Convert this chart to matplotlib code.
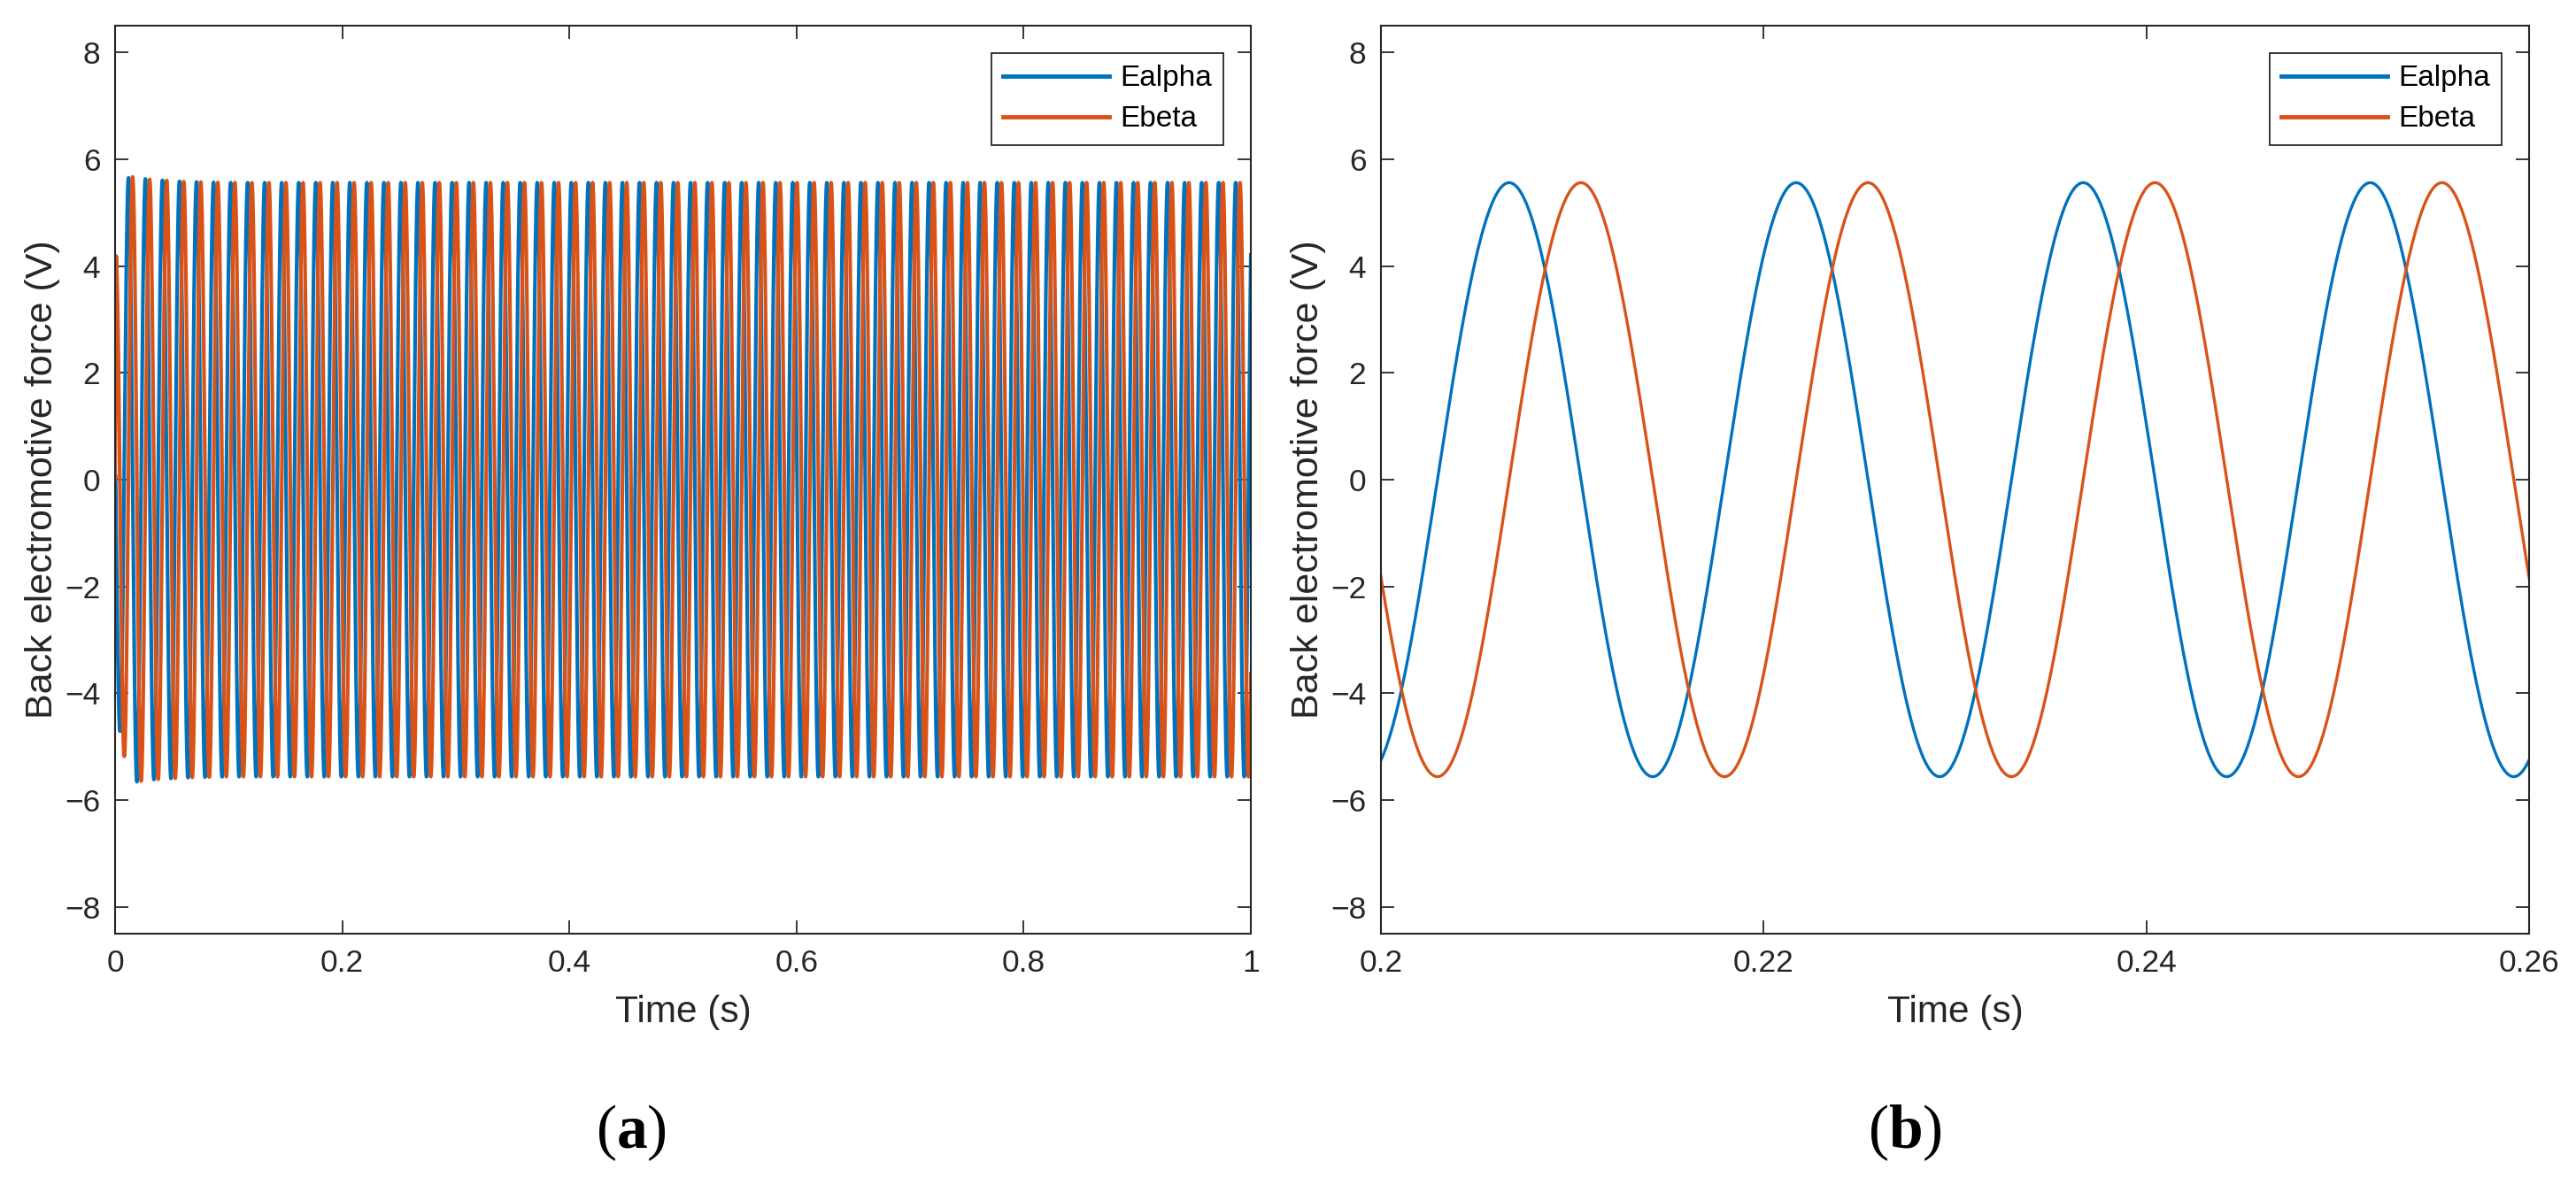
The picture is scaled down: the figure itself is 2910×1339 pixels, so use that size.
import numpy as np
import matplotlib
matplotlib.use("Agg")
import matplotlib.pyplot as plt

# values (MATLAB simulation output)
amplitude = 5.56          # steady-state peak (V)
period = 0.015            # s, peak to peak in panel (b)
alpha_peak_time = 0.2067  # s, an Ealpha crest seen in panel (b)
beta_lag = 0.00375        # s, Ebeta crest follows Ealpha crest

# start-up envelope seen at the left edge of panel (a)
startup_t = [0.0, 0.001, 0.012, 0.03, 0.06, 0.1, 1.0]
startup_amp = [0.0, 4.3, 5.68, 5.62, 5.58, amplitude, amplitude]

series_names = ["Ealpha", "Ebeta"]
panel_xlims = [(0, 1), (0.2, 0.26)]
panel_xticks = [[0, 0.2, 0.4, 0.6, 0.8, 1], [0.2, 0.22, 0.24, 0.26]]
panel_xticklabels = [["0", "0.2", "0.4", "0.6", "0.8", "1"],
                     ["0.2", "0.22", "0.24", "0.26"]]
yticks = [-8, -6, -4, -2, 0, 2, 4, 6, 8]
captions = ["a", "b"]

BLUE = "#0072BD"
ORANGE = "#D95319"
AXC = "#262626"

plt.rcParams["font.family"] = ["Liberation Sans", "DejaVu Sans"]
plt.rcParams["mathtext.fontset"] = "custom"
plt.rcParams["mathtext.rm"] = "Liberation Serif"
plt.rcParams["mathtext.bf"] = "Liberation Serif:bold"

t = np.arange(0, 1.0 + 1e-9, 2e-5)
env = np.interp(t, startup_t, startup_amp)
phase = 2 * np.pi * (t - alpha_peak_time) / period
e_alpha = env * np.cos(phase)
e_beta = env * np.cos(phase - 2 * np.pi * beta_lag / period)

W, H = 2910, 1339
fig = plt.figure(figsize=(W / 100, H / 100), dpi=100)

boxes = [(130, 1413), (1560, 2857)]
top_px, bot_px = 29, 1055
caption_x = [713, 2152]
line_w = [3.0, 2.4]

for i, (x0, x1) in enumerate(boxes):
    ax = fig.add_axes([x0 / W, 1 - bot_px / H, (x1 - x0) / W, (bot_px - top_px) / H])
    lo, hi = panel_xlims[i]
    m = (t >= lo - 1e-4) & (t <= hi + 1e-4)
    ax.plot(t[m], e_alpha[m], color=BLUE, lw=line_w[i], label=series_names[0])
    ax.plot(t[m], e_beta[m], color=ORANGE, lw=line_w[i], label=series_names[1])
    ax.set_xlim(lo, hi)
    ax.set_ylim(-8.5, 8.5)
    ax.set_xticks(panel_xticks[i])
    ax.set_xticklabels(panel_xticklabels[i])
    ax.set_yticks(yticks)
    ax.set_yticklabels([str(v).replace("-", "\u2212") for v in yticks])
    ax.tick_params(direction="in", length=11, width=1.3, colors=AXC,
                   labelsize=25.5, top=True, right=True, pad=12)
    for s in ax.spines.values():
        s.set_color(AXC)
        s.set_linewidth(1.5)
    ax.set_xlabel("Time (s)", fontsize=30.5, color=AXC, labelpad=14)
    ax.set_ylabel("Back electromotive force (V)", fontsize=31, color=AXC, labelpad=4)
    w_px = x1 - x0
    leg = ax.legend(loc="upper right",
                    bbox_to_anchor=(1 - 31 / w_px, 1 - 31 / (bot_px - top_px)),
                    borderaxespad=0, fontsize=24, handlelength=3.6,
                    handletextpad=0.35, labelspacing=0.45, borderpad=0.4,
                    fancybox=False, framealpha=1)
    leg.get_frame().set_edgecolor(AXC)
    leg.get_frame().set_linewidth(1.3)
    for h in leg.get_lines():
        h.set_linewidth(3.5)
    fig.text(caption_x[i] / W, 1 - 1280 / H, r"$(\mathbf{" + captions[i] + r"})$",
             fontsize=50, ha="center", va="center", color="black")

fig.savefig("out.png", dpi=100, facecolor="white")
